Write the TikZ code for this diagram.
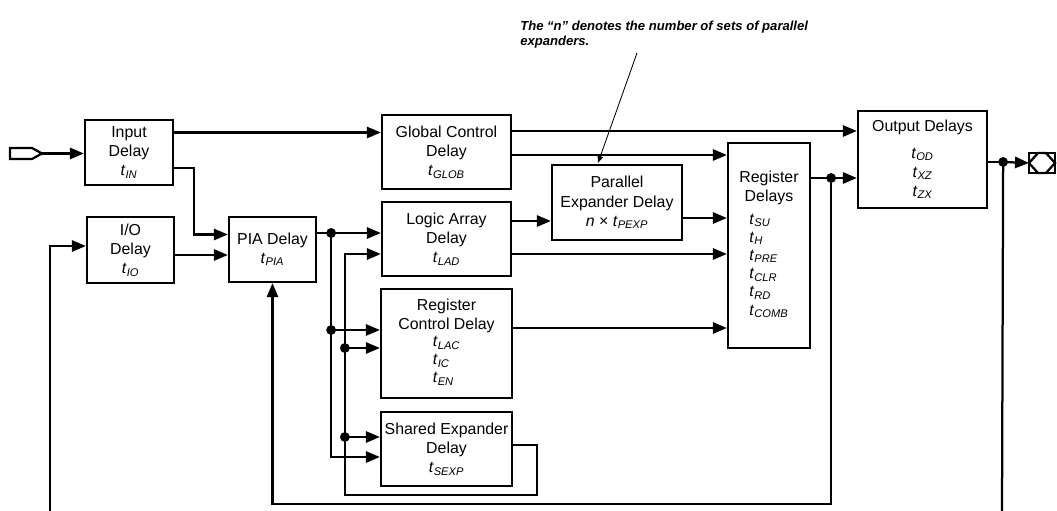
\documentclass[tikz,border=0pt]{standalone}
\usepackage{fontspec}
\setmainfont{Liberation Sans}
\usetikzlibrary{arrows.meta,calc,positioning}
\newcommand{\tdl}[1]{\textit{t}\textsubscript{\itshape #1}}
\newcommand{\tlist}[1]{{\def\arraystretch{0.95}\begin{tabular}{@{}l@{}}#1\end{tabular}}}

\begin{document}
\begin{tikzpicture}[
    x=0.025cm, y=-0.025cm,
    box/.style={rectangle, draw, line width=1.6pt, align=center, inner sep=0pt, font=\fontsize{11.3}{13.6}\selectfont},
    arrow/.style={-{Triangle[length=10pt,width=8pt]}, line width=1.6pt},
    wire/.style={line width=1.6pt},
    notearrow/.style={-{Triangle[length=5pt,width=4pt]}, line width=0.6pt}
]
    \useasboundingbox (0,0) rectangle (1057,511);

    % Delay blocks
    \node[box, minimum width=2.2cm, minimum height=1.625cm] (inp) at (129,152.5) {Input\\Delay\\\tdl{IN}};
    \node[box, minimum width=2.175cm, minimum height=1.65cm] (io) at (130.5,250) {I/O\\Delay\\\tdl{IO}};
    \node[box, minimum width=2.175cm, minimum height=1.625cm] (pia) at (272.5,249.5) {PIA Delay\\\tdl{PIA}};
    \node[box, minimum width=3.225cm, minimum height=1.85cm] (glob) at (446.5,152) {Global Control\\Delay\\\tdl{GLOB}};
    \node[box, minimum width=3.225cm, minimum height=1.85cm] (lad) at (446.5,239) {Logic Array\\Delay\\\tdl{LAD}};
    \node[box, minimum width=3.275cm, minimum height=2.725cm] (rcd) at (446.5,343.5) {Register\\Control Delay\\\tlist{\tdl{LAC}\\\tdl{IC}\\\tdl{EN}}};
    \node[box, minimum width=3.275cm, minimum height=1.85cm] (sexp) at (446.5,449) {Shared Expander\\Delay\\\tdl{SEXP}};
    \node[box, minimum width=3.25cm, minimum height=1.875cm] (pexp) at (617,202.5) {Parallel\\Expander Delay\\\textit{n} × \tdl{PEXP}};
    \node[box, minimum width=2.05cm, minimum height=5.125cm] (reg) at (769,245.5) {Register\\Delays\\[4pt]\tlist{\tdl{SU}\\\tdl{H}\\\tdl{PRE}\\\tdl{CLR}\\\tdl{RD}\\\tdl{COMB}}};
    \node[box, minimum width=3.225cm, minimum height=2.425cm] (outd) at (922.5,159.5) {Output Delays\\[5pt]\tdl{OD}\\\tdl{XZ}\\\tdl{ZX}};

    % Pins
    \draw[wire] (10,148) -- (32,148) -- (42,153.5) -- (32,159) -- (10,159) -- cycle;
    \coordinate (pinin) at (42,153.5);
    \draw[wire] (1029,153) rectangle (1055,173);
    \draw[wire] (1029,163) -- (1038,153) -- (1046,153) -- (1055,163) -- (1046,173) -- (1038,173) -- cycle;
    \coordinate (pinout) at (1029,163);

    % Note
    \node[anchor=north west, align=left, inner sep=0pt, font=\fontsize{9.3}{10.6}\selectfont\bfseries\itshape] (note) at (520,21)
        {The “n” denotes the number of sets of parallel\\expanders.};
    \coordinate (nt) at (637,53);
    \draw[notearrow] (nt) -- ($(pexp.north)+(-19,-1)$);

    % Input side
    \draw[arrow] (pinin) -- (pinin -| inp.west);
    \draw[arrow] ($(inp.east)+(0,-20)$) coordinate (i1) -- (i1 -| glob.west);
    \draw[arrow] ($(inp.east)+(0,15.5)$) -| ($(pia.west)+(-34,-15)$) -- ($(pia.west)+(0,-15)$);
    \coordinate (fbl) at (50,511);
    \draw[arrow] (fbl) |- ($(io.west)+(0,-4)$);
    \draw[arrow] ($(io.east)+(0,5)$) coordinate (o1) -- (o1 -| pia.west);

    % PIA bus
    \coordinate (b1) at ($(pia.east)+(14,-16.5)$);
    \draw[wire] ($(pia.east)+(0,-16.5)$) -- (b1);
    \draw[arrow] (b1) -- (b1 -| lad.west);
    \draw[arrow] (b1) |- ($(sexp.west)+(0,8)$);
    \coordinate (r1) at ($(rcd.west)+(0,-13.5)$);
    \draw[arrow] (b1 |- r1) -- (r1);
    \fill (b1) circle (3.5pt);
    \fill (b1 |- r1) circle (3.5pt);

    % Shared expander loop
    \coordinate (b2) at ($(lad.west)+(-36,15)$);
    \draw[arrow] ($(sexp.east)+(0,-4)$) -| ($(sexp.east)+(24,46)$) -| (b2) -- (b2 -| lad.west);
    \coordinate (r2) at ($(rcd.west)+(0,4.5)$);
    \coordinate (s2) at ($(sexp.west)+(0,-12)$);
    \draw[arrow] (b2 |- r2) -- (r2);
    \draw[arrow] (b2 |- s2) -- (s2);
    \fill (b2 |- r2) circle (3.5pt);
    \fill (b2 |- s2) circle (3.5pt);

    % Into register and output delays
    \draw[arrow] ($(glob.east)+(0,-21)$) coordinate (g1) -- (g1 -| outd.west);
    \draw[arrow] ($(glob.east)+(0,3)$) coordinate (g2) -- (g2 -| reg.west);
    \draw[arrow] ($(lad.east)+(0,-18)$) coordinate (l1) -- (l1 -| pexp.west);
    \draw[arrow] ($(lad.east)+(0,15)$) coordinate (l2) -- (l2 -| reg.west);
    \draw[arrow] ($(pexp.east)+(0,15.5)$) coordinate (p1) -- (p1 -| reg.west);
    \draw[arrow] ($(rcd.east)+(0,-15.5)$) coordinate (c1) -- (c1 -| reg.west);

    % Register feedback
    \coordinate (d1) at ($(reg.east)+(20,-67.5)$);
    \draw[wire] ($(reg.east)+(0,-67.5)$) -- (d1);
    \draw[arrow] (d1) -- (d1 -| outd.west);
    \draw[arrow] (d1) |- ($(pia.south)+(0,221)$) -- (pia.south);
    \fill (d1) circle (3.5pt);

    % Output
    \coordinate (d2) at ($(outd.east)+(15,2.5)$);
    \draw[wire] ($(outd.east)+(0,2.5)$) -- (d2);
    \draw[arrow] (d2) -- (pinout);
    \coordinate (fbr) at (1002,511);
    \draw[wire] (d2) -- (fbr);
    \fill (d2) circle (3.5pt);
\end{tikzpicture}
\end{document}
